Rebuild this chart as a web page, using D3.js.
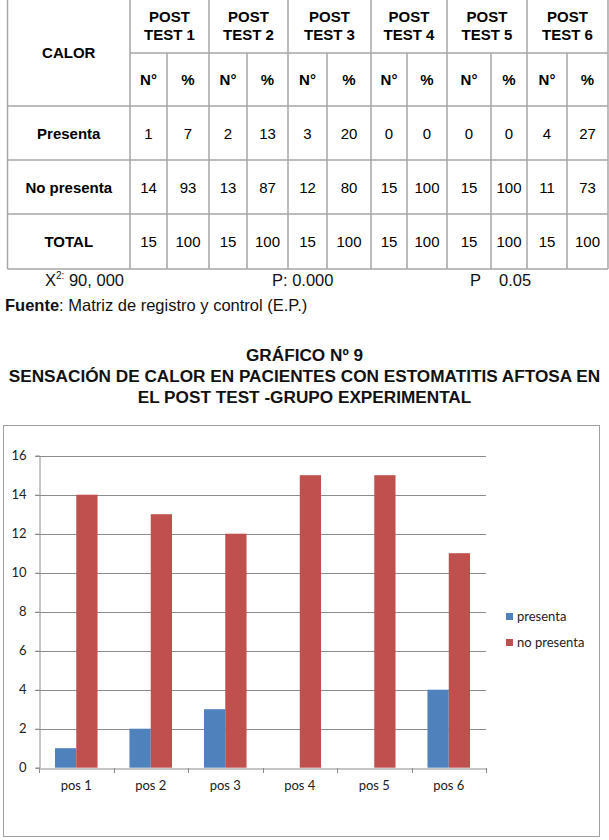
<!DOCTYPE html>
<html><head><meta charset="utf-8">
<script src="https://cdn.jsdelivr.net/npm/d3@7"></script>
<style>
html,body{margin:0;padding:0;background:#fff;}
svg{display:block;}
</style></head>
<body>
<svg id="page" width="609" height="840"></svg>
<script>
// ---------- DATA ----------
const categories = ["pos 1", "pos 2", "pos 3", "pos 4", "pos 5", "pos 6"];
const seriesNames = ["presenta", "no presenta"];
const presenta = [1, 2, 3, 0, 0, 4];
const noPresenta = [14, 13, 12, 15, 15, 11];
const yTicks = [0, 2, 4, 6, 8, 10, 12, 14, 16];

const testHeaders = ["POST TEST 1", "POST TEST 2", "POST TEST 3", "POST TEST 4", "POST TEST 5", "POST TEST 6"];
const rowLabels = ["Presenta", "No presenta", "TOTAL"];
const presentaPct = [7, 13, 20, 0, 0, 27];
const noPresentaPct = [93, 87, 80, 100, 100, 73];
const totalN = [15, 15, 15, 15, 15, 15];
const totalPct = [100, 100, 100, 100, 100, 100];

const titleLines = ["GRÁFICO Nº 9", "SENSACIÓN DE CALOR EN PACIENTES CON ESTOMATITIS AFTOSA EN", "EL POST TEST -GRUPO EXPERIMENTAL"];

// ---------- PAGE ----------
const svg = d3.select("#page");
const lineCol = "#a6a6a6";
const arial = "'Liberation Sans', Arial, sans-serif";

// Table
const colEdges = [7.5, 130, 167, 209, 247, 288, 327, 371, 407, 447, 491, 527, 567, 608];
const rowEdges = [-2, 53, 106, 160, 214, 269];
const tbl = svg.append("g").attr("font-family", arial).attr("font-size", 15).attr("fill", "#000");

const vlines = [];
colEdges.forEach((x, i) => {
  const isSub = i > 1 && i < colEdges.length - 1 && (i % 2 === 0);
  vlines.push({x, y1: isSub ? rowEdges[1] : rowEdges[0], y2: rowEdges[5]});
});
tbl.selectAll("line.v").data(vlines).join("line")
  .attr("x1", d => d.x).attr("x2", d => d.x).attr("y1", d => d.y1).attr("y2", d => d.y2)
  .attr("stroke", lineCol).attr("stroke-width", 1.5);
const hlines = [
  {y: rowEdges[0], x1: colEdges[0], x2: colEdges[13]},
  {y: rowEdges[1], x1: colEdges[1], x2: colEdges[13]},
  {y: rowEdges[2], x1: colEdges[0], x2: colEdges[13]},
  {y: rowEdges[3], x1: colEdges[0], x2: colEdges[13]},
  {y: rowEdges[4], x1: colEdges[0], x2: colEdges[13]},
  {y: rowEdges[5], x1: colEdges[0], x2: colEdges[13]}
];
tbl.selectAll("line.h").data(hlines).join("line")
  .attr("x1", d => d.x1).attr("x2", d => d.x2).attr("y1", d => d.y).attr("y2", d => d.y)
  .attr("stroke", lineCol).attr("stroke-width", 1.5);

tbl.append("text").attr("x", (colEdges[0] + colEdges[1]) / 2).attr("y", 58)
  .attr("text-anchor", "middle").attr("font-weight", "bold").text("CALOR");

testHeaders.forEach((h, i) => {
  const x0 = colEdges[1 + 2 * i], x2 = colEdges[3 + 2 * i], x1 = colEdges[2 + 2 * i];
  const cx = (x0 + x2) / 2;
  const parts = h.split(" ");
  const t = tbl.append("text").attr("text-anchor", "middle").attr("font-weight", "bold").attr("font-size", 15);
  t.append("tspan").attr("x", cx).attr("y", 22).text(parts[0]);
  t.append("tspan").attr("x", cx).attr("y", 40).text(parts[1] + " " + parts[2]);
  tbl.append("text").attr("x", (x0 + x1) / 2).attr("y", 85).attr("text-anchor", "middle").attr("font-weight", "bold").text("N°");
  tbl.append("text").attr("x", (x1 + x2) / 2).attr("y", 85).attr("text-anchor", "middle").attr("font-weight", "bold").text("%");
});

const rows = [[presenta, presentaPct], [noPresenta, noPresentaPct], [totalN, totalPct]];
rows.forEach((r, ri) => {
  const cy = (rowEdges[2 + ri] + rowEdges[3 + ri]) / 2 + 5.5;
  tbl.append("text").attr("x", (colEdges[0] + colEdges[1]) / 2).attr("y", cy)
    .attr("text-anchor", "middle").attr("font-weight", "bold").text(rowLabels[ri]);
  categories.forEach((c, i) => {
    const x0 = colEdges[1 + 2 * i], x1 = colEdges[2 + 2 * i], x2 = colEdges[3 + 2 * i];
    tbl.append("text").attr("x", (x0 + x1) / 2).attr("y", cy).attr("text-anchor", "middle").text(r[0][i]);
    tbl.append("text").attr("x", (x1 + x2) / 2).attr("y", cy).attr("text-anchor", "middle").text(r[1][i]);
  });
});

// stats line
const stats = svg.append("g").attr("font-family", arial).attr("font-size", 16.5).attr("fill", "#111");
const t1 = stats.append("text").attr("x", 45).attr("y", 286);
t1.append("tspan").text("X");
t1.append("tspan").attr("font-size", 10).attr("dy", -7).text("2:");
t1.append("tspan").attr("dy", 7).text(" 90, 000");
stats.append("text").attr("x", 272).attr("y", 286).text("P: 0.000");
stats.append("text").attr("x", 470).attr("y", 286).text("P");
stats.append("text").attr("x", 499).attr("y", 286).text("0.05");

const f = svg.append("text").attr("x", 5).attr("y", 311).attr("font-family", arial).attr("font-size", 16.5).attr("fill", "#111");
f.append("tspan").attr("font-weight", "bold").text("Fuente");
f.append("tspan").text(": Matriz de registro y control (E.P.)");

// titles
svg.append("g").attr("font-family", arial).attr("font-size", 17.2).attr("font-weight", "bold").attr("fill", "#111")
  .selectAll("text").data(titleLines).join("text")
  .attr("x", 304.5).attr("y", (d, i) => 361 + i * 21).attr("text-anchor", "middle").text(d => d);

// ---------- CHART ----------
const box = {x: 3, y: 425, w: 596, h: 411};
svg.append("rect").attr("x", box.x + 0.5).attr("y", box.y + 0.5).attr("width", box.w).attr("height", box.h)
  .attr("fill", "#fff").attr("stroke", "#a0a0a0").attr("stroke-width", 1);

const plot = {left: 39, right: 486, top: 455.7, bottom: 767.7};
const x = d3.scaleBand().domain(categories).range([plot.left, plot.right]).paddingInner(0).paddingOuter(0);
const bw = x.bandwidth();
const xs = d3.scaleBand().domain(seriesNames).range([bw * 0.75 / 3.5, bw - bw * 0.75 / 3.5]).padding(0);
const y = d3.scaleLinear().domain([0, 16]).range([plot.bottom, plot.top]);
const color = d3.scaleOrdinal().domain(seriesNames).range(["#4f81bd", "#c0504d"]);
const chartFont = "Lato, 'Open Sans', sans-serif";
const gridCol = "#8c8c8c";

svg.append("g").selectAll("line").data(yTicks.filter(d => d > 0)).join("line")
  .attr("x1", plot.left - 4).attr("x2", plot.right).attr("y1", d => Math.round(y(d)) + 0.5).attr("y2", d => Math.round(y(d)) + 0.5)
  .attr("stroke", gridCol).attr("stroke-width", 1);

const yAxis = svg.append("g").attr("transform", `translate(${plot.left + 0.5},0)`)
  .call(d3.axisLeft(y).tickValues(yTicks).tickSize(4).tickPadding(9));
yAxis.select(".domain").attr("stroke", gridCol);
yAxis.selectAll(".tick line").attr("stroke", gridCol);
yAxis.selectAll(".tick text").attr("font-family", chartFont).attr("font-size", 13).attr("fill", "#222");

const groups = svg.append("g").selectAll("g").data(categories).join("g")
  .attr("transform", d => `translate(${x(d)},0)`);
groups.selectAll("rect").data((d, i) => [
  {s: seriesNames[0], v: presenta[i]},
  {s: seriesNames[1], v: noPresenta[i]}
]).join("rect")
  .attr("x", d => xs(d.s)).attr("width", xs.bandwidth())
  .attr("y", d => y(d.v)).attr("height", d => y(0) - y(d.v))
  .attr("fill", d => color(d.s));

const xAxis = svg.append("g").attr("transform", `translate(0,${Math.round(plot.bottom) + 0.5})`)
  .call(d3.axisBottom(x).tickSize(0).tickPadding(12));
xAxis.select(".domain").attr("stroke", gridCol);
xAxis.selectAll(".tick text").attr("font-family", chartFont).attr("font-size", 13).attr("fill", "#222");
svg.append("g").selectAll("line").data(d3.range(categories.length + 1)).join("line")
  .attr("x1", i => Math.round(plot.left + i * bw) + 0.5).attr("x2", i => Math.round(plot.left + i * bw) + 0.5)
  .attr("y1", Math.round(plot.bottom)).attr("y2", Math.round(plot.bottom) + 5)
  .attr("stroke", gridCol);

const leg = svg.append("g").attr("font-family", chartFont).attr("font-size", 13);
const li = leg.selectAll("g").data(seriesNames).join("g")
  .attr("transform", (d, i) => `translate(506,${613 + i * 26})`);
li.append("rect").attr("width", 7).attr("height", 7).attr("fill", d => color(d));
li.append("text").attr("x", 11).attr("y", 8).attr("fill", "#222").text(d => d);
</script>
</body></html>
